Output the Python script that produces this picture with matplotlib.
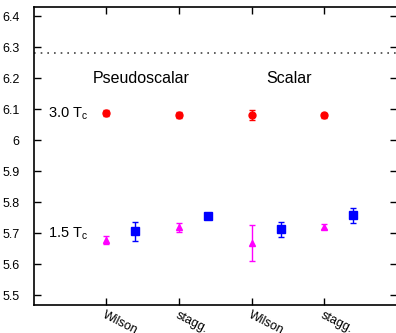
import matplotlib
matplotlib.use("Agg")
import matplotlib.pyplot as plt
import numpy as np

plt.rcParams['font.family'] = ['Liberation Sans', 'DejaVu Sans']
plt.rcParams['mathtext.fontset'] = 'custom'
plt.rcParams['mathtext.rm'] = 'Liberation Sans'
plt.rcParams['mathtext.it'] = 'Liberation Sans'

# 3.0 Tc, red circles
x_hot = [1, 2, 3, 4]
y_hot = [6.087, 6.082, 6.082, 6.081]
e_hot = [0.010, 0.009, 0.017, 0.008]

# 1.5 Tc, magenta triangles
x_warm = [1, 2, 3, 4]
y_warm = [5.679, 5.719, 5.669, 5.722]
e_warm = [0.014, 0.015, 0.057, 0.009]

# 1.5 Tc, blue squares
x_blue = [1.4, 2.4, 3.4, 4.4]
y_blue = [5.707, 5.755, 5.713, 5.758]
e_blue = [0.030, 0.004, 0.024, 0.024]

tick_pos = [1, 2, 3, 4]
tick_lab = ["Wilson", "stagg.", "Wilson", "stagg."]
limit = 2 * np.pi

fig = plt.figure(figsize=(3.96, 3.33), dpi=100)
ax = fig.add_axes([0.0846, 0.085, 0.918, 0.894])

ax.axhline(limit, color='#444444', lw=1.2, ls=(0, (1, 3)))

ax.errorbar(x_hot, y_hot, yerr=e_hot, fmt='o', color='red', ms=5,
            capsize=2.5, elinewidth=1, capthick=1)
ax.errorbar(x_warm, y_warm, yerr=e_warm, fmt='^', color='magenta', ms=4.5,
            capsize=2.5, elinewidth=1, capthick=1)
ax.errorbar(x_blue, y_blue, yerr=e_blue, fmt='s', color='blue', ms=5.5,
            capsize=2.5, elinewidth=1, capthick=1)

ax.text(1.48, 6.2, "Pseudoscalar", fontsize=11.5, ha='center', va='center')
ax.text(3.51, 6.2, "Scalar", fontsize=11.5, ha='center', va='center')
ax.text(0.2, 6.085, r"3.0 T$_\mathrm{c}$", fontsize=10.5, ha='left', va='center')
ax.text(0.2, 5.70, r"1.5 T$_\mathrm{c}$", fontsize=10.5, ha='left', va='center')

ax.set_xlim(0, 5)
ax.set_ylim(5.47, 6.43)
ax.set_yticks([5.5, 5.6, 5.7, 5.8, 5.9, 6.0, 6.1, 6.2, 6.3, 6.4])
ax.set_yticklabels(["5.5", "5.6", "5.7", "5.8", "5.9", "6", "6.1", "6.2", "6.3", "6.4"])
ax.set_xticks(tick_pos)
ax.set_xticklabels(tick_lab, rotation=-27, ha='left', va='top',
                   rotation_mode='anchor')
ax.tick_params(direction='in', length=5, width=1, labelsize=9,
               top=True, right=True)
ax.tick_params(axis='y', pad=10)
ax.tick_params(axis='x', pad=3)
for s in ax.spines.values():
    s.set_linewidth(1.2)

fig.savefig("out.png", dpi=100)
